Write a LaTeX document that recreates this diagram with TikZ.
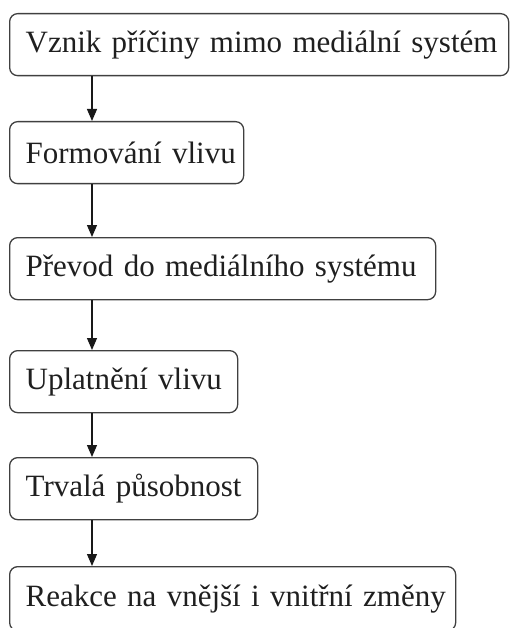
\documentclass[tikz,border=0pt]{standalone}
\usepackage{fontspec}
\setmainfont{Liberation Serif}
\usetikzlibrary{arrows.meta,calc}
\begin{document}
\begin{tikzpicture}[x=1pt,y=1pt,
  stepbox/.style={draw=black!75, line width=1.3pt, rounded corners=8pt,
    anchor=north west, minimum height=62pt, inner xsep=16pt, inner ysep=0pt,
    align=left, text=black!88, font=\fontsize{31}{36}\selectfont},
  flow/.style={line width=1.2pt, draw=black!90,
    -{Triangle[length=12pt,width=10pt]}}]
\useasboundingbox (0,0) rectangle (509,-628);
\node[stepbox, text width=467pt] (b1) at (9,-13) {\mbox{Vznik příčiny mimo mediální systém}};
\node[stepbox, text width=202pt] (b2) at (9,-121) {\mbox{Formování vlivu}};
\node[stepbox, text width=394pt] (b3) at (9,-237) {\mbox{Převod do mediálního systému}};
\node[stepbox, text width=196pt] (b4) at (9,-350) {\mbox{Uplatnění vlivu}};
\node[stepbox, text width=216pt] (b5) at (9,-457) {\mbox{Trvalá působnost}};
\node[stepbox, text width=414pt, minimum height=64pt] (b6) at (9,-566) {\mbox{Reakce na vnější i vnitřní změny}};
\foreach \a/\b in {b1/b2,b2/b3,b3/b4,b4/b5,b5/b6}
  \draw[flow] ($(\a.south west)+(83,0)$) -- ($(\b.north west)+(83,0)$);
\end{tikzpicture}
\end{document}
